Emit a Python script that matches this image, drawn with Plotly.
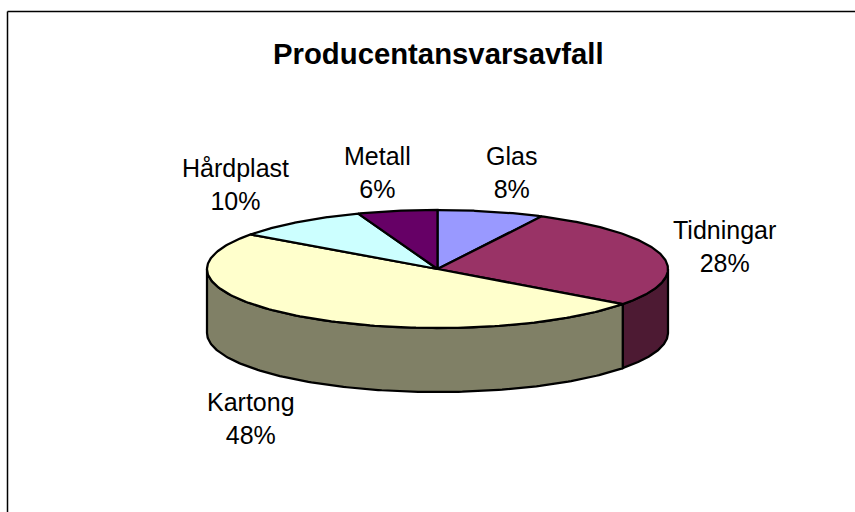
import numpy as np
import plotly.graph_objects as go

categories = ["Glas", "Tidningar", "Kartong", "Hårdplast", "Metall"]
shares = [8, 28, 48, 10, 6]
top_colors = ["#9999FF", "#993366", "#FFFFCC", "#CCFFFF", "#660066"]
wall_colors = ["#4D4D80", "#4D1A33", "#808066", "#668080", "#330033"]
title = "Producentansvarsavfall"

# view of the tilted disc, in page pixels
CX, CY, RX, RY, DEPTH = 437.5, 269.0, 230.5, 59.0, 64.0
PERSPECTIVE_DEG = 4.0
label_pos = {
    "Glas": (511, 172), "Tidningar": (724, 246), "Kartong": (251, 418),
    "Hårdplast": (235, 184), "Metall": (377, 172),
}


def project(theta_deg):
    """Clockwise angle from the back of the disc -> apparent rim angle."""
    t = np.radians(theta_deg)
    return np.radians(theta_deg - PERSPECTIVE_DEG * np.sin(t))


def rim(theta_from, theta_to, dy=0.0):
    th = project(np.linspace(theta_from, theta_to, 160))
    return CX + RX * np.sin(th), CY - RY * np.cos(th) + dy


def inverse(apparent):
    grid = np.linspace(0, 360, 7201)
    return float(np.interp(apparent, np.degrees(project(grid)), grid))


fig = go.Figure()
edges = np.concatenate([[0], np.cumsum(shares)]) / sum(shares) * 360
front_a, front_b = inverse(90), inverse(270)

# side walls of the front half
for i, name in enumerate(categories):
    a, b = max(edges[i], front_a), min(edges[i + 1], front_b)
    if a >= b:
        continue
    x1, y1 = rim(a, b)
    x2, y2 = rim(a, b, DEPTH)
    fig.add_trace(go.Scatter(
        x=np.concatenate([x1, x2[::-1], x1[:1]]),
        y=np.concatenate([y1, y2[::-1], y1[:1]]),
        mode="lines", fill="toself", fillcolor=wall_colors[i],
        line=dict(color="#000000", width=2.25), hoverinfo="skip", showlegend=False,
    ))

# top faces
for i, name in enumerate(categories):
    x, y = rim(edges[i], edges[i + 1])
    fig.add_trace(go.Scatter(
        x=np.concatenate([[CX], x, [CX]]),
        y=np.concatenate([[CY], y, [CY]]),
        mode="lines", fill="toself", fillcolor=top_colors[i],
        line=dict(color="#000000", width=2.25), name=name, showlegend=False,
    ))

annotations = [
    dict(x=label_pos[n][0], y=label_pos[n][1], text=f"{n}<br>{v}%", showarrow=False,
         xanchor="center", yanchor="middle", align="center",
         font=dict(family="Liberation Sans, Arial", size=25, color="#000000"))
    for n, v in zip(categories, shares)
]
annotations.append(dict(x=438, y=53, text=f"<b>{title}</b>", showarrow=False,
                        xanchor="center", yanchor="middle",
                        font=dict(family="Liberation Sans, Arial", size=29.3, color="#000000")))

fig.update_layout(
    width=855, height=512, margin=dict(l=0, r=0, t=0, b=0),
    paper_bgcolor="#FFFFFF", plot_bgcolor="#FFFFFF", showlegend=False,
    xaxis=dict(range=[0, 855], visible=False, fixedrange=True),
    yaxis=dict(range=[512, 0], visible=False, fixedrange=True),
    annotations=annotations,
    shapes=[
        dict(type="line", x0=7.5, x1=7.5, y0=11.5, y1=512, line=dict(color="#000000", width=1.5)),
        dict(type="line", x0=7.5, x1=855, y0=11.5, y1=11.5, line=dict(color="#000000", width=1.5)),
    ],
)
fig.write_html("out.html", config={"displayModeBar": False},
               post_script="document.body.style.margin='0';document.body.style.overflow='hidden';")
